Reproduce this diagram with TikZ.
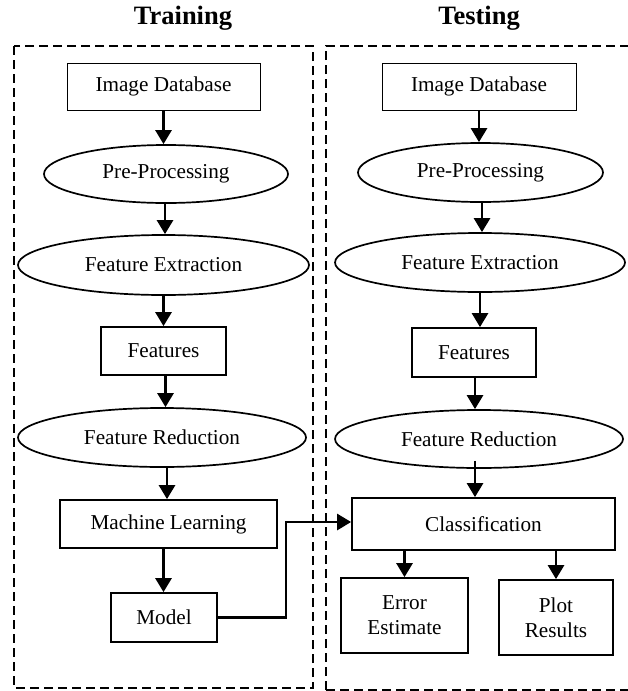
\documentclass[tikz,border=0pt]{standalone}
\usepackage{fontspec}
\setmainfont{Liberation Serif}
\usetikzlibrary{shapes.geometric,arrows.meta}
\tikzset{
  x=1pt,y=-1pt,
  lbl/.style={font=\fontsize{21.2}{25}\selectfont,align=center,inner sep=0pt},
  thinbox/.style={lbl,draw,rectangle,line width=0.9pt},
  box/.style={lbl,draw,rectangle,line width=1.7pt},
  oval/.style={lbl,draw,ellipse,line width=1.7pt},
  arr/.style={line width=2.6pt,-{Triangle[length=14pt,width=16pt]}},
  frame/.style={dashed,dash pattern=on 9pt off 5pt,line width=1.7pt},
  ttl/.style={font=\fontsize{26.5}{30}\selectfont\bfseries,inner sep=0pt}
}
\begin{document}
\begin{tikzpicture}
\useasboundingbox (0,0) rectangle (627,691);
% frames
\draw[frame] (14,46) rectangle (313,688);
\draw[frame] (326,690) -- (326,46) -- (640,46);
\draw[frame] (326,690) -- (640,690);
% titles
\node[ttl] (t1) at (183,18) {Training};
\node[ttl] (t2) at (479,18) {Testing};
% training column
\node[thinbox,minimum width=193,minimum height=47] (ib1) at (163.5,86.5) {Image Database};
\node[oval,minimum width=244,minimum height=58] (pp1) at (166,174) {Pre-Processing};
\node[oval,minimum width=291,minimum height=60] (fe1) at (163.5,265) {Feature Extraction};
\node[box,minimum width=125,minimum height=48] (ft1) at (163.5,351) {Features};
\node[oval,minimum width=288,minimum height=59] (fr1) at (162,437.5) {Feature Reduction};
\node[box,minimum width=217,minimum height=48] (ml1) at (168.5,524) {Machine Learning};
\node[box,minimum width=106,minimum height=49] (mo) at (164,617.5) {Model};
% testing column
\node[thinbox,minimum width=194,minimum height=47] (ib2) at (479,86.5) {Image Database};
\node[oval,minimum width=245,minimum height=59] (pp2) at (480.5,172.5) {Pre-Processing};
\node[oval,minimum width=290,minimum height=59] (fe2) at (480,262.5) {Feature Extraction};
\node[box,minimum width=124,minimum height=49] (ft2) at (474,352.5) {Features};
\node[oval,minimum width=288,minimum height=58] (fr2) at (479,439) {Feature Reduction};
\node[box,minimum width=263,minimum height=52] (cl) at (483.5,524) {Classification};
\node[box,minimum width=127,minimum height=75] (ee) at (404.5,615.5) {Error\\Estimate};
\node[box,minimum width=114,minimum height=75] (plr) at (556,617.5) {Plot\\Results};
% training arrows
\draw[arr] (ib1.south) -- (ib1.south |- pp1.north);
\draw[arr] ([xshift=-1pt]pp1.south) -- ([xshift=-1pt]pp1.south |- fe1.north);
\draw[arr] (fe1.south) -- (fe1.south |- ft1.north);
\draw[arr] ([xshift=2pt]ft1.south) -- ([xshift=2pt]ft1.south |- fr1.north);
\draw[arr] ([xshift=5pt]fr1.south) -- ([xshift=5pt]fr1.south |- ml1.north);
\draw[arr] ([xshift=-0.5pt]mo.north |- ml1.south) -- ([xshift=-0.5pt]mo.north);
% testing arrows
\draw[arr] (ib2.south) -- (ib2.south |- pp2.north);
\draw[arr] ([xshift=1.5pt]pp2.south) -- ([xshift=1.5pt]pp2.south |- fe2.north);
\draw[arr] (fe2.south) -- (fe2.south |- ft2.north);
\draw[arr] ([xshift=1pt]ft2.south) -- ([xshift=1pt]ft2.south |- fr2.north);
\draw[arr] ([xshift=-4pt,yshift=8pt]fr2.south) -- ([xshift=-4pt]fr2.south |- cl.north);
\draw[arr] (ee.north |- cl.south) -- (ee.north);
\draw[arr] (plr.north |- cl.south) -- (plr.north);
% model to classification
\draw[arr] (mo.east) -- ++(68,0) |- ([yshift=2pt]cl.west);
\end{tikzpicture}
\end{document}
